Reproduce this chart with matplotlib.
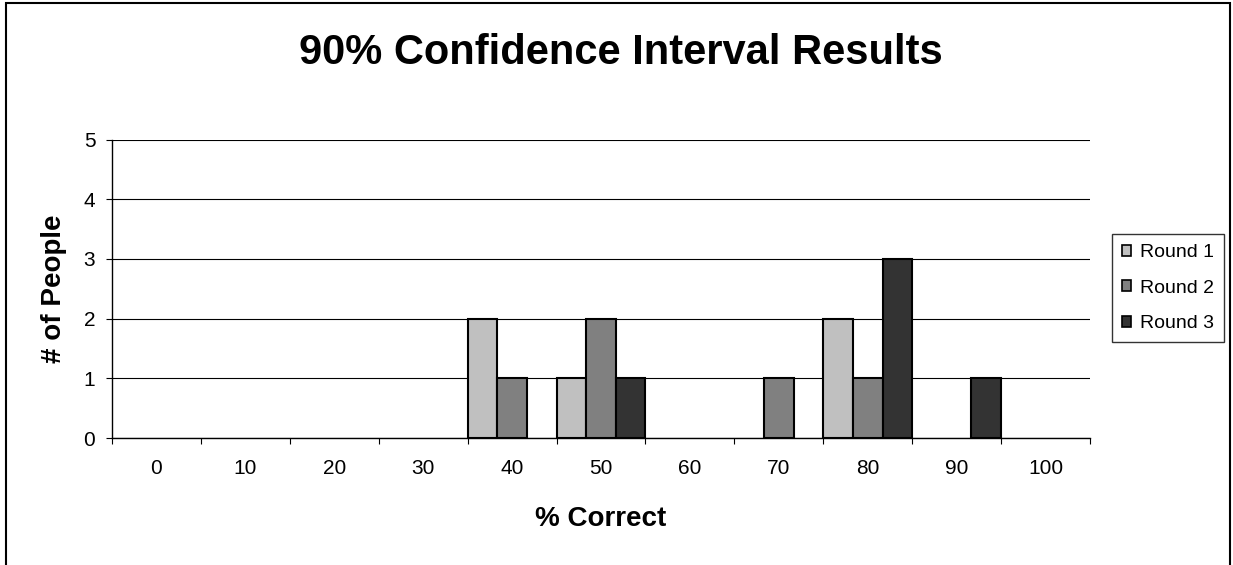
import numpy as np
import matplotlib.pyplot as plt
from matplotlib.patches import Rectangle

plt.rcParams['font.family'] = ['Liberation Sans', 'DejaVu Sans']

categories = ['0', '10', '20', '30', '40', '50', '60', '70', '80', '90', '100']
round1 = [0, 0, 0, 0, 2, 1, 0, 0, 2, 0, 0]
round2 = [0, 0, 0, 0, 1, 2, 0, 1, 1, 0, 0]
round3 = [0, 0, 0, 0, 0, 1, 0, 0, 3, 1, 0]
series_names = ['Round 1', 'Round 2', 'Round 3']
colors = ['#c0c0c0', '#808080', '#333333']

fig = plt.figure(figsize=(12.33, 5.65), dpi=100)
ax = fig.add_axes([112/1233, 1 - 438/565, (1090-112)/1233, (438-139.5)/565])

x = np.arange(len(categories))
w = 1/3.
for k, vals in enumerate([round1, round2, round3]):
    lws = [1.5 if v > 0 else 0 for v in vals]   # empty bars draw nothing
    ax.bar(x + (k - 1)*w, vals, width=w, color=colors[k], edgecolor='black',
           linewidth=lws, label=series_names[k], zorder=3)

ax.set_xlim(-0.5, len(categories) - 0.5)
ax.set_ylim(0, 5)
ax.set_yticks(range(6))
ax.yaxis.grid(True, color='black', lw=0.8, zorder=0)

ax.set_xticks(x)
ax.set_xticklabels(categories)
ax.set_xticks(np.arange(-0.5, len(categories)), minor=True)
ax.tick_params(axis='x', which='major', length=0, pad=15, labelsize=15)
ax.tick_params(axis='x', which='minor', length=4, width=0.8, direction='out')
ax.tick_params(axis='y', length=4, width=0.8, pad=8, labelsize=15)

for s in ['top', 'right']:
    ax.spines[s].set_visible(False)
for s in ['left', 'bottom']:
    ax.spines[s].set_linewidth(1.0)

ax.set_xlabel('% Correct', fontsize=20, fontweight='bold', labelpad=20)
ax.set_ylabel('# of People', fontsize=20, fontweight='bold', labelpad=12)
fig.text(621/1233, 1 - 53/565, '90% Confidence Interval Results', fontsize=30,
         fontweight='bold', ha='center', va='center')

leg = ax.legend(loc='center left', bbox_to_anchor=(1112/1233, 1 - 288/565),
                bbox_transform=fig.transFigure, fontsize=14, frameon=True,
                fancybox=False, edgecolor='black', borderpad=0.5,
                handlelength=0.5, handleheight=0.5, handletextpad=0.45,
                labelspacing=0.95, borderaxespad=0)
leg.get_frame().set_linewidth(1.0)
for h in leg.legend_handles:
    h.set_linewidth(1.2)
    h.set_edgecolor('black')

fig.patches.append(Rectangle((6/1233, -0.1), (1230-6)/1233, 0.1 + 1 - 3/565,
                             transform=fig.transFigure, fill=False,
                             edgecolor='black', lw=1.5))

fig.savefig('out.png', dpi=100)
